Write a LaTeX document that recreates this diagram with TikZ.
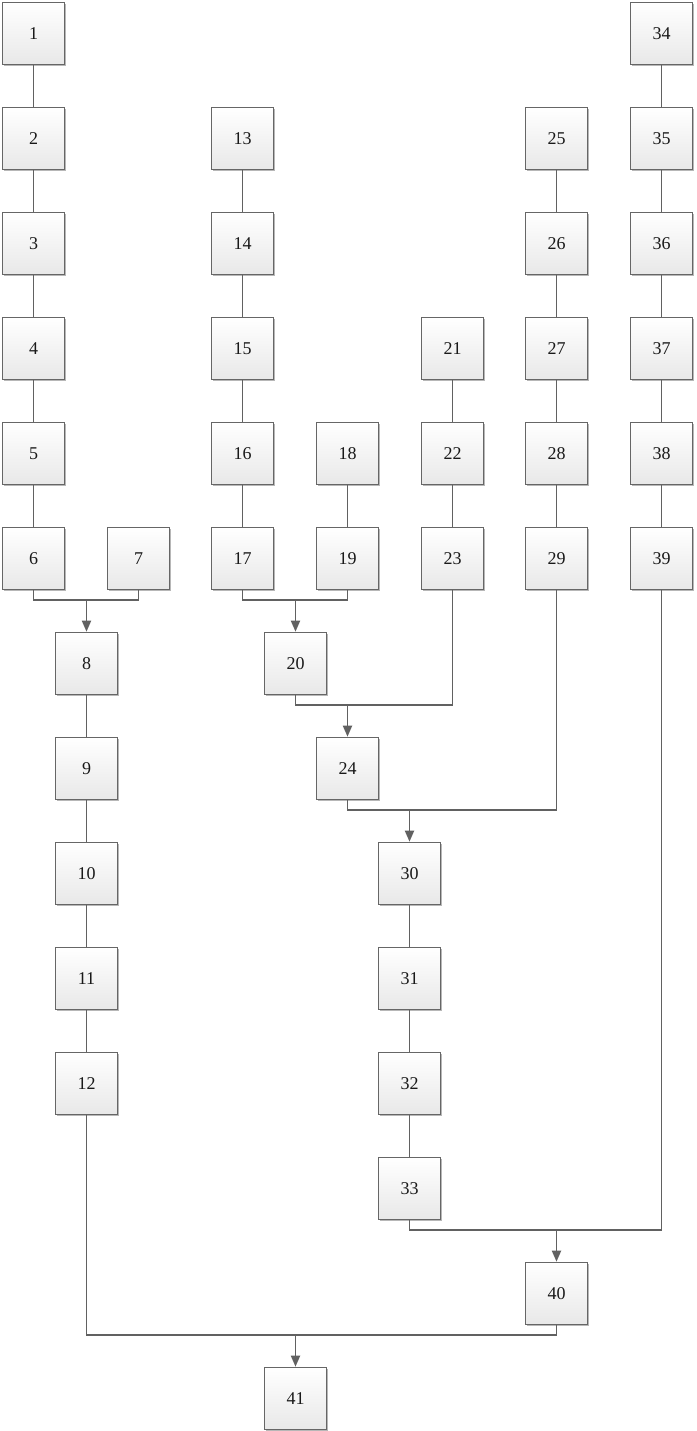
\documentclass[tikz,border=0pt]{standalone}
\usepackage{fontspec}
\setmainfont{Liberation Serif}
\usetikzlibrary{shadows,arrows.meta}
\begin{document}
\begin{tikzpicture}[x=1pt,y=-1pt,
  bx/.style={draw=black!60,line width=1.6pt,minimum width=62pt,minimum height=62pt,inner sep=0pt,
    top color=white,bottom color=black!9,
    drop shadow={shadow xshift=1.2pt,shadow yshift=-1.2pt,fill=black!40,opacity=0.7},
    font=\fontsize{18}{21}\selectfont,text=black!90},
  ln/.style={draw=black!62,line width=1.8pt},
  arr/.style={ln,-{Triangle[length=11pt,width=9pt]}}]
\useasboundingbox (0,0) rectangle (696,1431);
% row y centers: 33.5+105 i
\def\ca{33.5}\def\cb{138.5}\def\cc{86.5}\def\cd{242.5}\def\ce{347.5}\def\cf{295.5}\def\cg{452.5}\def\ch{556.5}\def\ci{409.5}\def\cj{661.5}
\node[bx] (n1) at (\ca,33.5) {1};
\node[bx] (n2) at (\ca,138.5) {2};
\node[bx] (n3) at (\ca,243.5) {3};
\node[bx] (n4) at (\ca,348.5) {4};
\node[bx] (n5) at (\ca,453.5) {5};
\node[bx] (n6) at (\ca,558.5) {6};
\node[bx] (n7) at (\cb,558.5) {7};
\node[bx] (n8) at (\cc,663.5) {8};
\node[bx] (n9) at (\cc,768.5) {9};
\node[bx] (n10) at (\cc,873.5) {10};
\node[bx] (n11) at (\cc,978.5) {11};
\node[bx] (n12) at (\cc,1083.5) {12};
\node[bx] (n13) at (\cd,138.5) {13};
\node[bx] (n14) at (\cd,243.5) {14};
\node[bx] (n15) at (\cd,348.5) {15};
\node[bx] (n16) at (\cd,453.5) {16};
\node[bx] (n17) at (\cd,558.5) {17};
\node[bx] (n18) at (\ce,453.5) {18};
\node[bx] (n19) at (\ce,558.5) {19};
\node[bx] (n20) at (\cf,663.5) {20};
\node[bx] (n21) at (\cg,348.5) {21};
\node[bx] (n22) at (\cg,453.5) {22};
\node[bx] (n23) at (\cg,558.5) {23};
\node[bx] (n24) at (\ce,768.5) {24};
\node[bx] (n25) at (\ch,138.5) {25};
\node[bx] (n26) at (\ch,243.5) {26};
\node[bx] (n27) at (\ch,348.5) {27};
\node[bx] (n28) at (\ch,453.5) {28};
\node[bx] (n29) at (\ch,558.5) {29};
\node[bx] (n30) at (\ci,873.5) {30};
\node[bx] (n31) at (\ci,978.5) {31};
\node[bx] (n32) at (\ci,1083.5) {32};
\node[bx] (n33) at (\ci,1188.5) {33};
\node[bx] (n34) at (\cj,33.5) {34};
\node[bx] (n35) at (\cj,138.5) {35};
\node[bx] (n36) at (\cj,243.5) {36};
\node[bx] (n37) at (\cj,348.5) {37};
\node[bx] (n38) at (\cj,453.5) {38};
\node[bx] (n39) at (\cj,558.5) {39};
\node[bx] (n40) at (\ch,1293.5) {40};
\node[bx] (n41) at (\cf,1398.5) {41};
% chains
\foreach \a/\b in {1/2,2/3,3/4,4/5,5/6,8/9,9/10,10/11,11/12,13/14,14/15,15/16,16/17,18/19,21/22,22/23,25/26,26/27,27/28,28/29,30/31,31/32,32/33,34/35,35/36,36/37,37/38,38/39}
  \draw[ln] (n\a.south) -- (n\b.north);
% joins
\coordinate (j1) at (\cc,600);
\coordinate (j2) at (\cf,600);
\coordinate (j3) at (\ce,705);
\coordinate (j4) at (\ci,810);
\coordinate (j5) at (\ch,1230);
\coordinate (j6) at (\cf,1335);
\draw[ln] (n6.south) |- (j1) -| (n7.south);
\draw[arr] (j1) -- (n8.north);
\draw[ln] (n17.south) |- (j2) -| (n19.south);
\draw[arr] (j2) -- (n20.north);
\draw[ln] (n20.south) |- (j3) -| (n23.south);
\draw[arr] (j3) -- (n24.north);
\draw[ln] (n24.south) |- (j4) -| (n29.south);
\draw[arr] (j4) -- (n30.north);
\draw[ln] (n33.south) |- (j5) -| (n39.south);
\draw[arr] (j5) -- (n40.north);
\draw[ln] (n12.south) |- (j6) -| (n40.south);
\draw[arr] (j6) -- (n41.north);
\end{tikzpicture}
\end{document}
